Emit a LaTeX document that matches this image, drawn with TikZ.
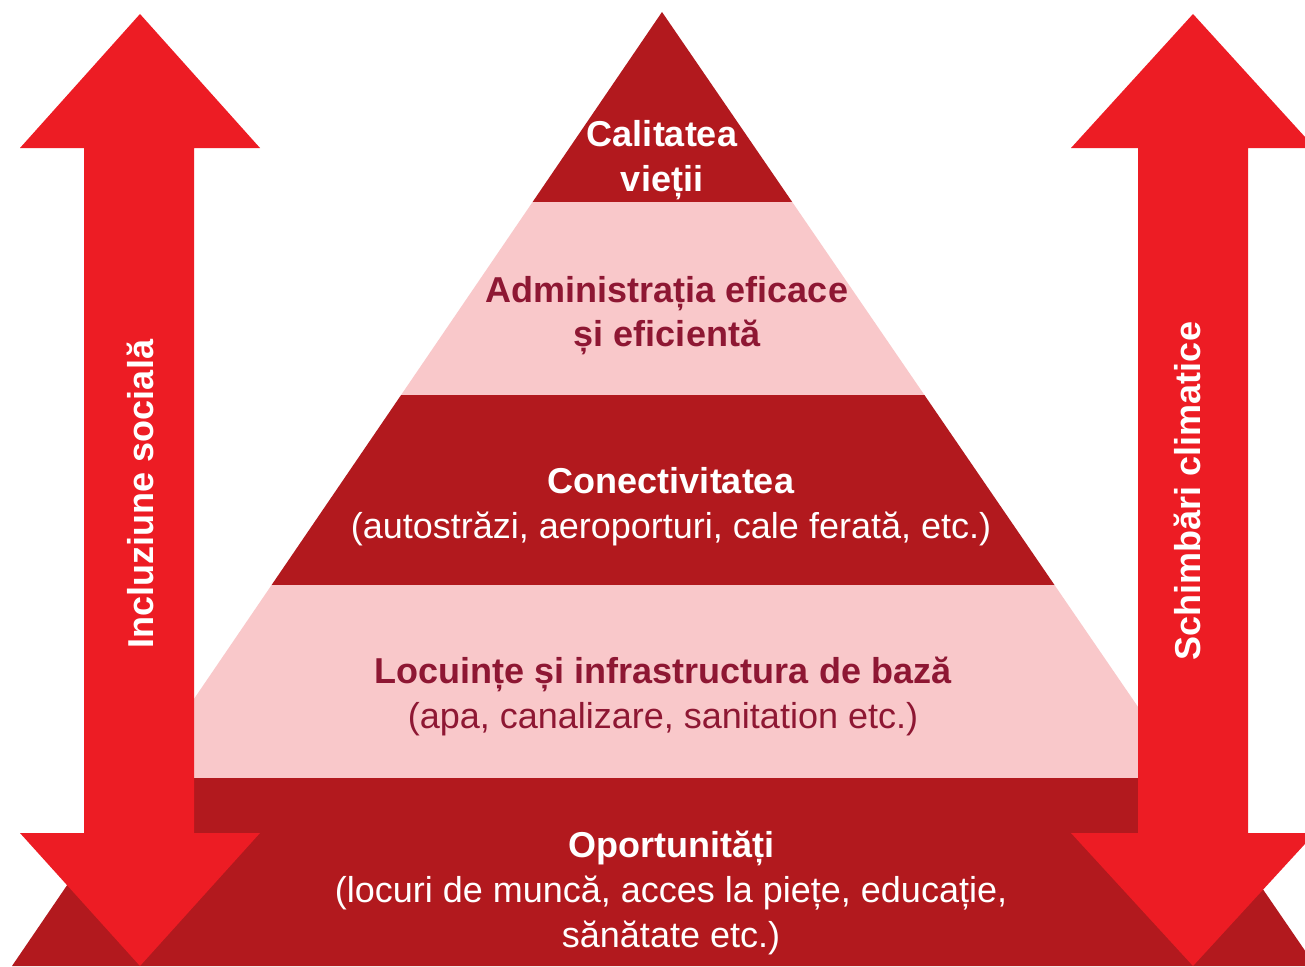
\documentclass[tikz,border=0pt]{standalone}
\usepackage{fontspec}
\setmainfont{Liberation Sans}
\definecolor{arrowred}{HTML}{ED1C24}
\definecolor{darkred}{HTML}{B2191E}
\definecolor{pinkfill}{HTML}{F9C8CA}
\definecolor{maroon}{HTML}{8E1733}
\begin{document}
\begin{tikzpicture}[x=1pt,y=-1pt,
  darklayer/.style={fill=darkred},
  pinklayer/.style={fill=pinkfill},
  bigarrow/.style={fill=arrowred},
  titlewhite/.style={text=white,font=\fontsize{36}{45}\selectfont\bfseries,inner sep=0pt,anchor=base},
  subwhite/.style={text=white,font=\fontsize{36}{45}\selectfont,inner sep=0pt,anchor=base},
  titlemaroon/.style={text=maroon,font=\fontsize{36}{45}\selectfont\bfseries,inner sep=0pt,anchor=base},
  submaroon/.style={text=maroon,font=\fontsize{36}{45}\selectfont,inner sep=0pt,anchor=base},
  sidelabel/.style={text=white,font=\fontsize{36}{45}\selectfont\bfseries,inner sep=0pt,anchor=base,rotate=90}]
\useasboundingbox (0,0) rectangle (1305,966);
\clip (0,0) rectangle (1305,966);
\fill[white] (0,0) rectangle (1305,966);
% pyramid layers
\fill[darklayer] (662,12) -- (792.2,202) -- (532.6,202) -- cycle;
\fill[pinklayer] (532.6,202) -- (792.2,202) -- (924.4,395) -- (401.1,395) -- cycle;
\fill[darklayer] (401.1,395) -- (924.4,395) -- (1054.5,585) -- (271.6,585) -- cycle;
\fill[pinklayer] (271.6,585) -- (1054.5,585) -- (1186.7,778) -- (140.1,778) -- cycle;
\fill[darklayer] (140.1,778) -- (1186.7,778) -- (1315.5,966) -- (12,966) -- cycle;
% arrows
\fill[bigarrow] (140,14) -- (260,148) -- (194,148) -- (194,833) -- (260,833) -- (140,966) -- (20,833) -- (84,833) -- (84,148) -- (20,148) -- cycle;
\fill[bigarrow] (1193,14) -- (1315,148) -- (1248,148) -- (1248,833) -- (1315,833) -- (1193,966) -- (1071,833) -- (1138,833) -- (1138,148) -- (1071,148) -- cycle;
% texts
\node[titlewhite] (l1a) at (662,146) {Calitatea};
\node[titlewhite] (l1b) at (662,191) {vieții};
\node[titlemaroon] (l2a) at (667,302) {Administrația eficace};
\node[titlemaroon] (l2b) at (667,346) {și eficientă};
\node[titlewhite] (l3a) at (671,493) {Conectivitatea};
\node[subwhite] (l3b) at (671,538) {(autostrăzi, aeroporturi, cale ferată, etc.)};
\node[titlemaroon] (l4a) at (663,683) {Locuințe și infrastructura de bază};
\node[submaroon] (l4b) at (663,728) {(apa, canalizare, sanitation etc.)};
\node[titlewhite] (l5a) at (671,857) {Oportunități};
\node[subwhite] (l5b) at (671,902) {(locuri de muncă, acces la piețe, educație,};
\node[subwhite] (l5c) at (671,947) {sănătate etc.)};
\node[sidelabel] (lside) at (153,494) {Incluziune socială};
\node[sidelabel] (rside) at (1200,491) {Schimbări climatice};
\end{tikzpicture}
\end{document}
